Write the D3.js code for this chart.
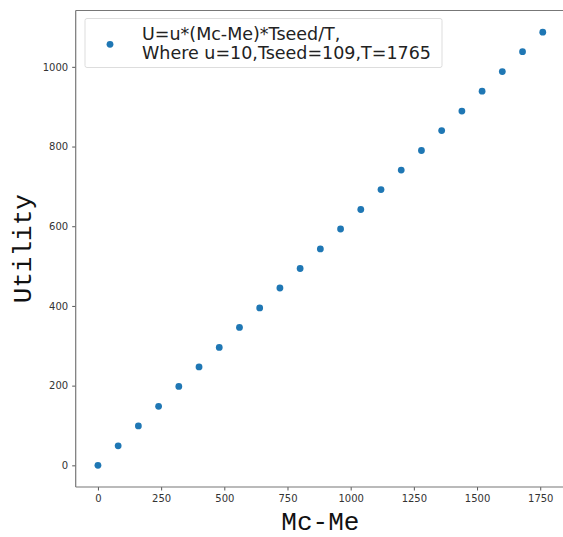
<!DOCTYPE html>
<html>
<head>
<meta charset="utf-8">
<script src="https://cdn.jsdelivr.net/npm/d3@7"></script>
<style>
  body { margin: 0; background: #fff; }
  svg { display: block; }
</style>
</head>
<body>
<div id="chart"></div>
<script>
// Mc-Me values and the utility
var mcMe = [0, 80, 160, 240, 320, 400, 480, 560, 640, 720, 800, 880,
            960, 1040, 1120, 1200, 1280, 1360, 1440, 1520, 1600, 1680, 1760]
var utility = [0, 49, 99, 148, 198, 247, 296, 346, 395, 445, 494, 543,
               593, 642, 692, 741, 790, 840, 889, 939, 988, 1038, 1087]

var xTicks = [0, 250, 500, 750, 1000, 1250, 1500, 1750]
var yTicks = [0, 200, 400, 600, 800, 1000]

var legendLines = ["U=u*(Mc-Me)*Tseed/T,", "Where u=10,Tseed=109,T=1765"]
var xTitle = "Mc-Me"
var yTitle = "Utility"

var width = 563
var height = 537

// plot area (right spine falls outside the picture)
var plotLeft = 75.7
var plotRight = 565
var plotTop = 10.5
var plotBottom = 487

var dotColor = "#1f77b4"

var svg = d3.select("#chart")
  .append("svg")
  .attr("width", width)
  .attr("height", height)

var x = d3.scaleLinear().domain([-88, 1848]).range([plotLeft, plotRight])
var y = d3.scaleLinear().domain([-54.35, 1141.35]).range([plotBottom, plotTop])

var xAxis = svg.append("g")
  .attr("transform", "translate(0," + plotBottom + ")")
  .call(d3.axisBottom(x).tickValues(xTicks).tickSize(3.5).tickPadding(4).tickFormat(d3.format("d")))

var yAxis = svg.append("g")
  .attr("transform", "translate(" + plotLeft + ",0)")
  .call(d3.axisLeft(y).tickValues(yTicks).tickSize(3.5).tickPadding(4).tickFormat(d3.format("d")))

;[xAxis, yAxis].forEach(function (g) {
  g.select(".domain").remove()
  g.selectAll("line").attr("stroke", "#444").attr("stroke-width", 0.9)
  g.selectAll("text")
    .attr("font-family", "DejaVu Sans")
    .attr("font-size", 10)
    .attr("fill", "#333")
})

// spines: left, top, bottom
var spines = [
  [plotLeft, plotTop, plotLeft, plotBottom],
  [plotLeft, plotTop, width, plotTop],
  [plotLeft, plotBottom, width, plotBottom]
]
svg.append("g")
  .selectAll("line")
  .data(spines)
  .enter()
  .append("line")
  .attr("x1", function (d) { return d[0] })
  .attr("y1", function (d) { return d[1] })
  .attr("x2", function (d) { return d[2] })
  .attr("y2", function (d) { return d[3] })
  .attr("stroke", "#777")
  .attr("stroke-width", 1.2)

svg.append("g")
  .selectAll("circle")
  .data(mcMe)
  .enter()
  .append("circle")
  .attr("cx", function (d) { return x(d) })
  .attr("cy", function (d, i) { return y(utility[i]) })
  .attr("r", 3.4)
  .attr("fill", dotColor)

// legend
var legend = svg.append("g")
legend.append("rect")
  .attr("x", 85)
  .attr("y", 18.5)
  .attr("width", 357)
  .attr("height", 49)
  .attr("rx", 2)
  .attr("fill", "#fff")
  .attr("fill-opacity", 0.8)
  .attr("stroke", "#ddd")
  .attr("stroke-width", 1)

legend.append("circle")
  .attr("cx", 110)
  .attr("cy", 44.3)
  .attr("r", 3.4)
  .attr("fill", dotColor)

legend.selectAll("text")
  .data(legendLines)
  .enter()
  .append("text")
  .attr("x", 142)
  .attr("y", function (d, i) { return 40 + i * 18.7 })
  .attr("font-family", "DejaVu Sans")
  .attr("font-size", 17.5)
  .attr("fill", "#222")
  .text(function (d) { return d })

// axis titles
svg.append("text")
  .attr("x", (plotLeft + plotRight) / 2)
  .attr("y", 530)
  .attr("text-anchor", "middle")
  .attr("font-family", "Liberation Mono")
  .attr("font-size", 26)
  .attr("fill", "#111")
  .text(xTitle)

svg.append("text")
  .attr("transform", "translate(31," + ((plotTop + plotBottom) / 2) + ") rotate(-90)")
  .attr("text-anchor", "middle")
  .attr("font-family", "Liberation Mono")
  .attr("font-size", 26)
  .attr("fill", "#111")
  .text(yTitle)
</script>
</body>
</html>
